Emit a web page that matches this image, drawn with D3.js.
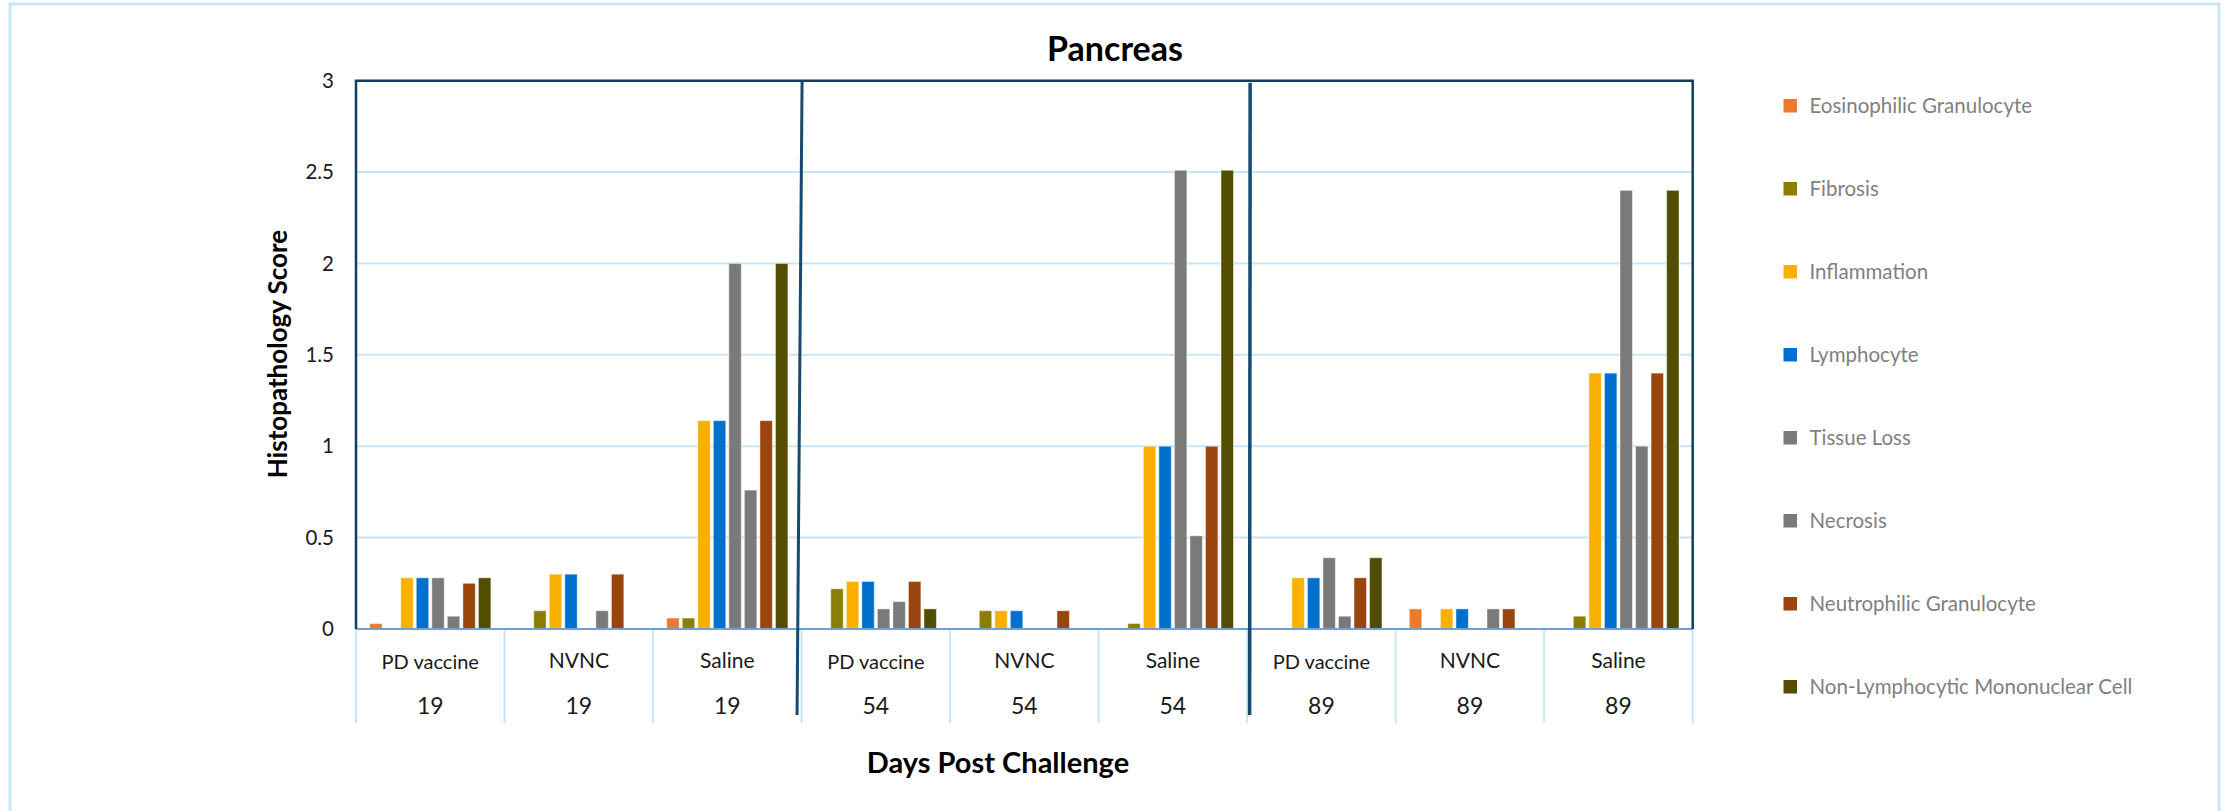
<!DOCTYPE html>
<html>
<head>
<meta charset="utf-8">
<script src="https://cdn.jsdelivr.net/npm/d3@7"></script>
<style>
  html, body { margin: 0; padding: 0; background: #ffffff; }
  svg { display: block; }
  text { font-family: Lato, "Open Sans", sans-serif; }
</style>
</head>
<body>
<svg id="chart" width="2234" height="811"></svg>
<script>
// Treatment groups and sampling days (days post challenge)
const groups = ["PD vaccine", "NVNC", "Saline"];
const days = ["19", "54", "89"];

// Lesion types scored in the pancreas
const seriesNames = [
  "Eosinophilic Granulocyte",
  "Fibrosis",
  "Inflammation",
  "Lymphocyte",
  "Tissue Loss",
  "Necrosis",
  "Neutrophilic Granulocyte",
  "Non-Lymphocytic Mononuclear Cell"
];
const seriesColors = ["#ED7A2A", "#8A7F00", "#F9B000", "#0070CF", "#7A7A7A", "#7A7A7A", "#9A440E", "#524D00"];

// Mean scores, ordered day 19 (PD, NVNC, Saline), day 54 (...), day 89 (...)
const eosinophilic   = [0.03, 0,    0.06, 0,    0,    0,    0,    0.11, 0];
const fibrosis       = [0,    0.10, 0.06, 0.22, 0.10, 0.03, 0,    0,    0.07];
const inflammation   = [0.28, 0.30, 1.14, 0.26, 0.10, 1.00, 0.28, 0.11, 1.40];
const lymphocyte     = [0.28, 0.30, 1.14, 0.26, 0.10, 1.00, 0.28, 0.11, 1.40];
const tissueLoss     = [0.28, 0,    2.00, 0.11, 0,    2.51, 0.39, 0,    2.40];
const necrosis       = [0.07, 0.10, 0.76, 0.15, 0,    0.51, 0.07, 0.11, 1.00];
const neutrophilic   = [0.25, 0.30, 1.14, 0.26, 0.10, 1.00, 0.28, 0.11, 1.40];
const nonLymphocytic = [0.28, 0,    2.00, 0.11, 0,    2.51, 0.39, 0,    2.40];

const seriesValues = [eosinophilic, fibrosis, inflammation, lymphocyte, tissueLoss, necrosis, neutrophilic, nonLymphocytic];

const yTicks = [0, 0.5, 1, 1.5, 2, 2.5, 3];

// Category keys: day × group
const categories = [];
days.forEach(d => groups.forEach(g => categories.push({ key: g + "|" + d, group: g, day: d })));

const rows = categories.map((c, i) => ({
  key: c.key,
  values: seriesNames.map((s, j) => ({ series: s, idx: j, value: seriesValues[j][i] }))
}));

// Layout
const plot = { left: 356, right: 1692.7, top: 80.7, bottom: 629 };
const svg = d3.select("#chart");

const x0 = d3.scaleBand()
  .domain(categories.map(c => c.key))
  .range([plot.left, plot.right])
  .paddingInner(0).paddingOuter(0);

const x1 = d3.scaleBand()
  .domain(seriesNames)
  .range([0, x0.bandwidth()])
  .paddingInner(0.2)
  .paddingOuter(0.88);

const y = d3.scaleLinear().domain([0, 3]).range([plot.bottom, plot.top]);

// Outer frame
svg.append("rect")
  .attr("x", 10).attr("y", 4)
  .attr("width", 2209).attr("height", 840)
  .attr("fill", "none")
  .attr("stroke", "#C5E5F8")
  .attr("stroke-width", 3);

// Horizontal gridlines
svg.append("g")
  .selectAll("line")
  .data(yTicks.filter(t => t > 0 && t < 3))
  .join("line")
  .attr("x1", plot.left).attr("x2", plot.right)
  .attr("y1", d => y(d)).attr("y2", d => y(d))
  .attr("stroke", "#C8E6F8")
  .attr("stroke-width", 2);

// Category dividers below the baseline
const boundaries = categories.map(c => x0(c.key)).concat([plot.right]);
svg.append("g")
  .selectAll("line")
  .data(boundaries)
  .join("line")
  .attr("x1", d => d).attr("x2", d => d)
  .attr("y1", plot.bottom).attr("y2", plot.bottom + 94)
  .attr("stroke", "#C8E6F8")
  .attr("stroke-width", 2);

// Bars
const groupsSel = svg.append("g")
  .selectAll("g")
  .data(rows)
  .join("g")
  .attr("transform", d => `translate(${x0(d.key)},0)`);

groupsSel.selectAll("rect")
  .data(d => d.values.filter(v => v.value > 0))
  .join("rect")
  .attr("x", d => x1(d.series))
  .attr("y", d => y(d.value))
  .attr("width", x1.bandwidth())
  .attr("height", d => y(0) - y(d.value))
  .attr("fill", d => seriesColors[d.idx])
  .attr("stroke", "rgba(255,255,255,0.45)")
  .attr("stroke-width", 1);

// Baseline
svg.append("line")
  .attr("x1", plot.left).attr("x2", plot.right)
  .attr("y1", y(0)).attr("y2", y(0))
  .attr("stroke", "#6FA0CF")
  .attr("stroke-width", 2.2);

// Plot border (top, left, right)
svg.append("path")
  .attr("d", `M${plot.left},${y(0)} V${plot.top} H${plot.right} V${y(0)}`)
  .attr("fill", "none")
  .attr("stroke", "#0F3F62")
  .attr("stroke-width", 2.5);

// Day separators
const sep1 = x0(categories[3].key);
const sep2 = x0(categories[6].key);
svg.append("line")
  .attr("x1", sep1 + 0.5).attr("y1", plot.top)
  .attr("x2", sep1 - 4.5).attr("y2", plot.bottom + 86)
  .attr("stroke", "#174A6E").attr("stroke-width", 3);
svg.append("line")
  .attr("x1", sep2 + 3).attr("y1", plot.top + 2)
  .attr("x2", sep2 + 2.5).attr("y2", plot.bottom + 86)
  .attr("stroke", "#174A6E").attr("stroke-width", 3.5);

// Y axis
const yAxis = d3.axisLeft(y)
  .tickValues(yTicks)
  .tickSize(0)
  .tickPadding(22)
  .tickFormat(d3.format("~g"));
const yAxisG = svg.append("g")
  .attr("transform", `translate(${plot.left},0)`)
  .call(yAxis);
yAxisG.select(".domain").remove();
yAxisG.selectAll("text")
  .attr("font-family", "Lato, sans-serif")
  .attr("font-size", 20.5)
  .attr("fill", "#1a1a1a");

// Group labels
const groupAxis = d3.axisBottom(x0)
  .tickSize(0)
  .tickFormat(k => k.split("|")[0]);
const groupAxisG = svg.append("g")
  .attr("transform", `translate(0,${plot.bottom})`)
  .call(groupAxis);
groupAxisG.select(".domain").remove();
groupAxisG.selectAll("text")
  .attr("y", d => d.startsWith("PD") ? 40 : 39)
  .attr("dy", null)
  .attr("font-family", "Lato, sans-serif")
  .attr("font-size", d => d.startsWith("PD") ? 20 : 21)
  .attr("fill", "#1a1a1a");

// Day labels
const dayAxis = d3.axisBottom(x0)
  .tickSize(0)
  .tickFormat(k => k.split("|")[1]);
const dayAxisG = svg.append("g")
  .attr("transform", `translate(0,${plot.bottom})`)
  .call(dayAxis);
dayAxisG.select(".domain").remove();
dayAxisG.selectAll("text")
  .attr("y", 85)
  .attr("dy", null)
  .attr("font-family", "Lato, sans-serif")
  .attr("font-size", 23)
  .attr("fill", "#1a1a1a");

// Titles
svg.append("text")
  .attr("x", 1115).attr("y", 61)
  .attr("text-anchor", "middle")
  .attr("font-family", "Lato, sans-serif")
  .attr("font-weight", "bold")
  .attr("font-size", 34)
  .attr("fill", "#000")
  .text("Pancreas");

svg.append("text")
  .attr("x", 998).attr("y", 773)
  .attr("text-anchor", "middle")
  .attr("font-family", "Lato, sans-serif")
  .attr("font-weight", "bold")
  .attr("font-size", 29)
  .attr("fill", "#000")
  .text("Days Post Challenge");

svg.append("text")
  .attr("transform", "translate(287,354) rotate(-90)")
  .attr("text-anchor", "middle")
  .attr("font-family", "'Open Sans', sans-serif")
  .attr("font-weight", "bold")
  .attr("font-size", 26)
  .attr("fill", "#000")
  .text("Histopathology Score");

// Legend
const legendY = d3.scalePoint().domain(seriesNames).range([106, 687]);
const legend = svg.append("g")
  .selectAll("g")
  .data(seriesNames)
  .join("g")
  .attr("transform", d => `translate(1783.5,${legendY(d)})`);
legend.append("rect")
  .attr("x", 0).attr("y", -7)
  .attr("width", 13.5).attr("height", 13.5)
  .attr("fill", (d, i) => seriesColors[i]);
legend.append("text")
  .attr("x", 26).attr("y", 0)
  .attr("dy", "0.35em")
  .attr("font-family", "Lato, sans-serif")
  .attr("font-size", 20.5)
  .attr("fill", "#7F7F7F")
  .text(d => d);
</script>
</body>
</html>
